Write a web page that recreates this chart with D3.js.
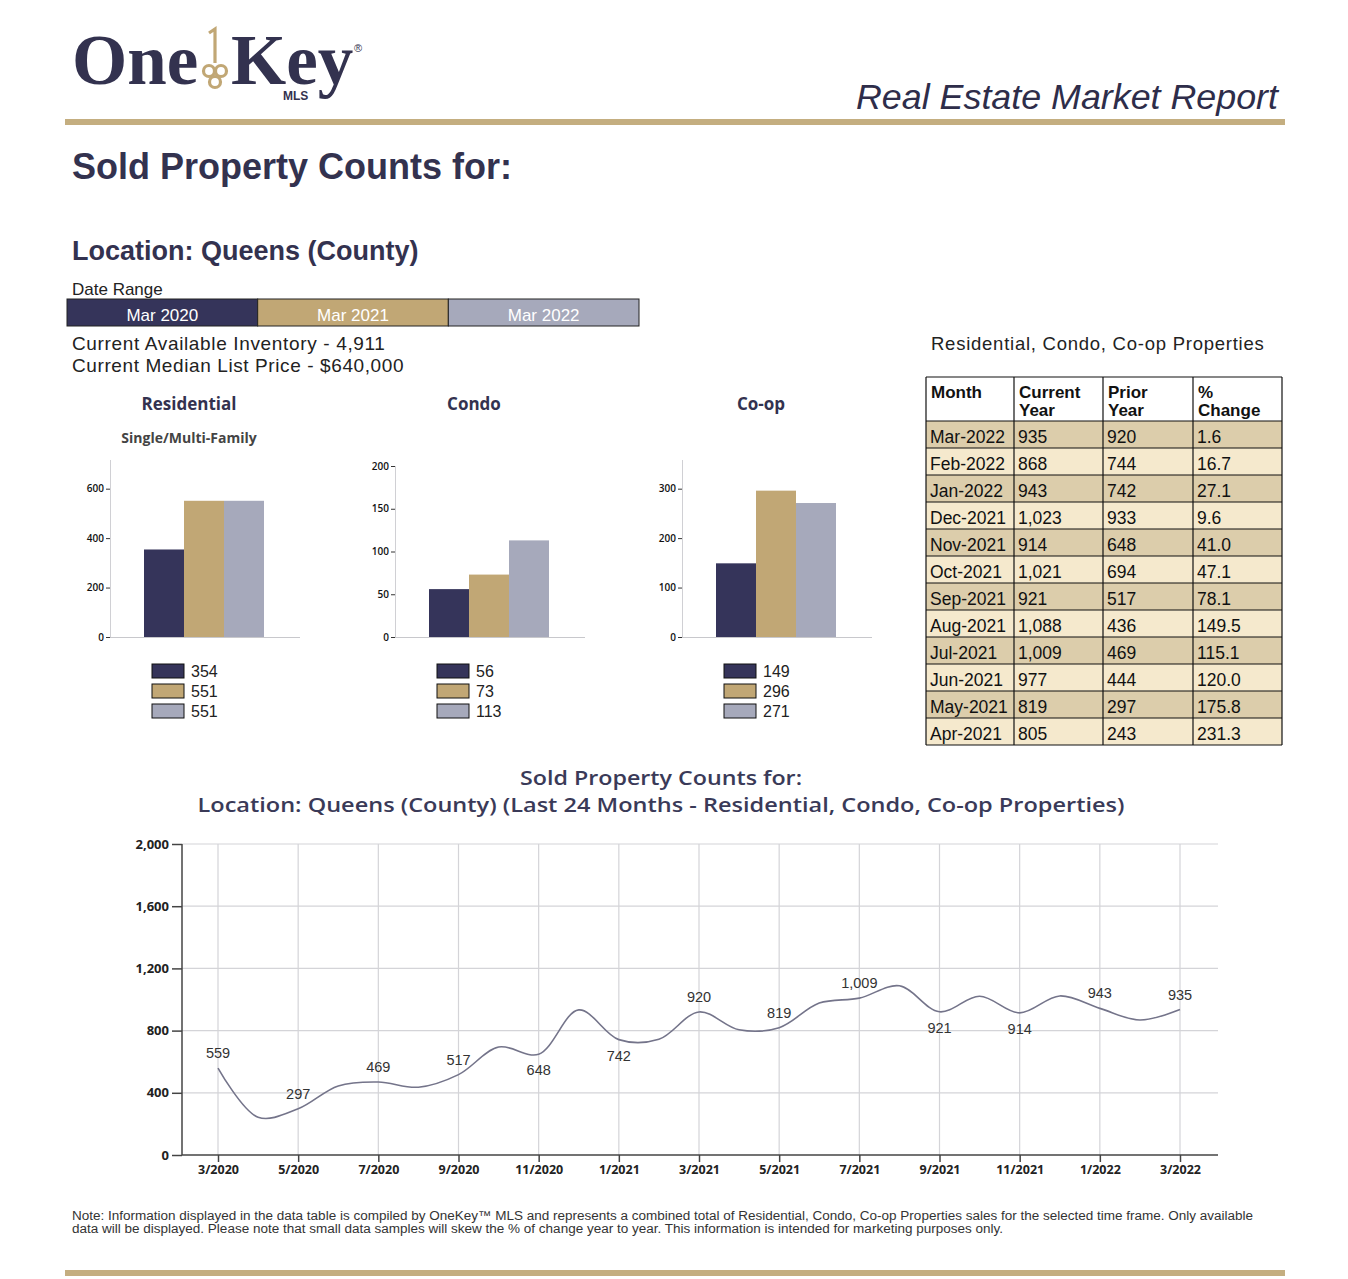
<!DOCTYPE html>
<html>
<head>
<meta charset="utf-8">
<style>
  body { margin: 0; background: #fff; }
  svg { display: block; }
  text { font-family: "Liberation Sans", Arial, sans-serif; }
  .tah { font-family: "Open Sans", "DejaVu Sans", sans-serif; }
</style>
</head>
<body>
<div id="page"></div>
<script src="https://cdnjs.cloudflare.com/ajax/libs/d3/7.8.5/d3.min.js"></script>
<script>
'use strict';

// ---- data ----
var dateRange = ['Mar 2020', 'Mar 2021', 'Mar 2022'];
var barCategories = ['Residential', 'Condo', 'Co-op'];
var barSubtitles = ['Single/Multi-Family', '', ''];
var residentialCounts = [354, 551, 551];
var condoCounts = [56, 73, 113];
var coopCounts = [149, 296, 271];

var tableMonths = ['Mar-2022', 'Feb-2022', 'Jan-2022', 'Dec-2021', 'Nov-2021', 'Oct-2021',
  'Sep-2021', 'Aug-2021', 'Jul-2021', 'Jun-2021', 'May-2021', 'Apr-2021'];
var currentYear = ['935', '868', '943', '1,023', '914', '1,021', '921', '1,088', '1,009', '977', '819', '805'];
var priorYear = ['920', '744', '742', '933', '648', '694', '517', '436', '469', '444', '297', '243'];
var pctChange = ['1.6', '16.7', '27.1', '9.6', '41.0', '47.1', '78.1', '149.5', '115.1', '120.0', '175.8', '231.3'];

// Mar 2020 .. Mar 2022, one per month
var monthlySold = [559, 243, 297, 444, 469, 436, 517, 694, 648, 933, 742, 744,
  920, 805, 819, 977, 1009, 1088, 921, 1021, 914, 1023, 943, 868, 935];
var monthTicks = ['3/2020', '5/2020', '7/2020', '9/2020', '11/2020', '1/2021', '3/2021',
  '5/2021', '7/2021', '9/2021', '11/2021', '1/2022', '3/2022'];
var yTicks = [0, 400, 800, 1200, 1600, 2000];

// ---- look ----
var navy = '#35345a', tan = '#c1a775', grey = '#a6a9bb', gold = '#c4ae80', ink = '#33324f';
var seriesColors = [navy, tan, grey];
var labelBelow = [false, false, false, false, true, true, false, false, false, true, true, false, false];

var W = 1348, H = 1279;
var svg = d3.select('#page').append('svg').attr('width', W).attr('height', H);

// ---- header ----
svg.append('text').attr('x', 72).attr('y', 84).text('One')
  .style('font-family', '"Liberation Serif", serif').style('font-weight', 700)
  .style('font-size', '71px').attr('fill', ink);
svg.append('text').attr('x', 231).attr('y', 84).text('Key')
  .style('font-family', '"Liberation Serif", serif').style('font-weight', 700)
  .style('font-size', '71px').attr('fill', ink);
var key = svg.append('g').attr('fill', 'none').attr('stroke', tan).attr('stroke-width', 3.2);
key.append('path').attr('d', 'M209,33 L215,29 L215,63');
key.append('circle').attr('cx', 209).attr('cy', 71).attr('r', 5.5);
key.append('circle').attr('cx', 221).attr('cy', 71).attr('r', 5.5);
key.append('circle').attr('cx', 215).attr('cy', 82).attr('r', 5.5);
svg.append('text').attr('x', 283).attr('y', 100).text('MLS')
  .style('font-weight', 700).style('font-size', '12px').attr('fill', ink);
svg.append('text').attr('x', 354).attr('y', 52).text('®')
  .style('font-size', '11px').attr('fill', ink);

svg.append('text').attr('x', 856).attr('y', 109).text('Real Estate Market Report')
  .attr('textLength', 422).attr('lengthAdjust', 'spacingAndGlyphs')
  .style('font-style', 'italic').style('font-size', '35px').attr('fill', '#2e2d4a');

svg.append('rect').attr('x', 65).attr('y', 119).attr('width', 1220).attr('height', 6).attr('fill', gold);
svg.append('rect').attr('x', 65).attr('y', 1270).attr('width', 1220).attr('height', 6).attr('fill', gold);

svg.append('text').attr('x', 72).attr('y', 179).text('Sold Property Counts for:')
  .style('font-weight', 700).style('font-size', '36px').attr('fill', ink);
svg.append('text').attr('x', 72).attr('y', 260).text('Location: Queens (County)')
  .style('font-weight', 700).style('font-size', '27px').attr('fill', ink);
svg.append('text').attr('x', 72).attr('y', 295).text('Date Range')
  .style('font-size', '17px').attr('fill', '#222');

var dr = d3.scaleBand().domain(dateRange).range([67, 639]);
var drG = svg.append('g');
drG.selectAll('rect').data(dateRange).join('rect')
  .attr('x', function (d) { return dr(d); }).attr('y', 299)
  .attr('width', dr.bandwidth()).attr('height', 27)
  .attr('fill', function (d, i) { return seriesColors[i]; })
  .attr('stroke', '#222').attr('stroke-width', 1);
drG.selectAll('text').data(dateRange).join('text')
  .attr('x', function (d) { return dr(d) + dr.bandwidth() / 2; }).attr('y', 321)
  .attr('text-anchor', 'middle').attr('fill', '#fff').style('font-size', '17px')
  .text(function (d) { return d; });

svg.append('text').attr('x', 72).attr('y', 350).text('Current Available Inventory - 4,911')
  .style('font-size', '19px').style('letter-spacing', '0.65px').attr('fill', '#222');
svg.append('text').attr('x', 72).attr('y', 372).text('Current Median List Price - $640,000')
  .style('font-size', '19px').style('letter-spacing', '0.6px').attr('fill', '#222');

// ---- three small bar charts ----
var barSets = [
  { values: residentialCounts, axisX: 110, max: 716, ticks: [0, 200, 400, 600], top: 460 },
  { values: condoCounts, axisX: 395, max: 200, ticks: [0, 50, 100, 150, 200], top: 466 },
  { values: coopCounts, axisX: 682, max: 358, ticks: [0, 100, 200, 300], top: 460 }
];
var barBase = 637;

barSets.forEach(function (s, k) {
  var g = svg.append('g');
  var cx = s.axisX + 79;
  g.append('text').attr('class', 'tah').attr('x', cx).attr('y', 410)
    .attr('text-anchor', 'middle').style('font-weight', 700).style('font-size', '17px')
    .attr('fill', ink).text(barCategories[k]);
  if (barSubtitles[k]) {
    g.append('text').attr('class', 'tah').attr('x', cx).attr('y', 443)
      .attr('text-anchor', 'middle').style('font-weight', 700).style('font-size', '14px')
      .attr('fill', '#444').text(barSubtitles[k]);
  }
  var y = d3.scaleLinear().domain([0, s.max]).range([barBase, s.top]);
  var x = d3.scaleBand().domain(d3.range(3)).range([s.axisX + 34, s.axisX + 154]).padding(0);

  g.selectAll('rect.bar').data(s.values).join('rect').attr('class', 'bar')
    .attr('x', function (d, i) { return x(i); }).attr('width', x.bandwidth())
    .attr('y', function (d) { return y(d); })
    .attr('height', function (d) { return barBase - y(d); })
    .attr('fill', function (d, i) { return seriesColors[i]; });

  g.append('line').attr('x1', s.axisX).attr('x2', s.axisX + 190)
    .attr('y1', barBase + 0.5).attr('y2', barBase + 0.5).attr('stroke', '#c8c8cc');
  var ax = g.append('g').attr('transform', 'translate(' + s.axisX + ',0)')
    .call(d3.axisLeft(y).tickValues(s.ticks).tickSize(4).tickPadding(2));
  ax.select('.domain').attr('stroke', '#d0d0d4').attr('d', 'M0.5,' + s.top + 'V' + barBase);
  ax.selectAll('.tick line').attr('stroke', '#333');
  ax.selectAll('.tick text').attr('class', 'tah').style('font-size', '10px')
    .style('font-weight', 600).attr('fill', '#111');

  var lg = g.selectAll('g.leg').data(s.values).join('g').attr('class', 'leg')
    .attr('transform', function (d, i) { return 'translate(' + (s.axisX + 42) + ',' + (664 + i * 20) + ')'; });
  lg.append('rect').attr('width', 32).attr('height', 14)
    .attr('fill', function (d, i) { return seriesColors[i]; })
    .attr('stroke', '#111').attr('stroke-width', 1);
  lg.append('text').attr('x', 39).attr('y', 12.5).style('font-size', '16px')
    .attr('fill', '#222').text(function (d) { return d; });
});

// ---- table ----
svg.append('text').attr('x', 931).attr('y', 350).text('Residential, Condo, Co-op Properties')
  .style('font-size', '18.5px').style('letter-spacing', '0.75px').attr('fill', '#222');

var colX = [926, 1014, 1103, 1193, 1282];
var headTop = 377, headH = 44, rowH = 27;
var tbl = svg.append('g');
tbl.append('rect').attr('x', colX[0]).attr('y', headTop)
  .attr('width', colX[4] - colX[0]).attr('height', headH).attr('fill', '#fff');
var headers = [['Month'], ['Current', 'Year'], ['Prior', 'Year'], ['%', 'Change']];
headers.forEach(function (h, c) {
  var t = tbl.append('text').attr('x', colX[c] + 4).attr('y', headTop + 21)
    .style('font-weight', 700).style('font-size', '17px').attr('fill', '#111');
  h.forEach(function (line, j) {
    t.append('tspan').attr('x', colX[c] + 5).attr('dy', j ? 18 : 0).text(line);
  });
});
var rows = tbl.selectAll('g.row').data(tableMonths).join('g').attr('class', 'row')
  .attr('transform', function (d, i) { return 'translate(0,' + (headTop + headH + i * rowH) + ')'; });
rows.append('rect').attr('x', colX[0]).attr('width', colX[4] - colX[0]).attr('height', rowH)
  .attr('fill', function (d, i) { return i % 2 ? '#f5e9cd' : '#dccdab'; });
rows.each(function (d, i) {
  var cells = [d, currentYear[i], priorYear[i], pctChange[i]];
  d3.select(this).selectAll('text').data(cells).join('text')
    .attr('x', function (c, j) { return colX[j] + 4; }).attr('y', 22)
    .style('font-size', '17.5px').attr('fill', '#111')
    .text(function (c) { return c; });
});
var gridLines = tbl.append('g').attr('stroke', '#111').attr('stroke-width', 1.2);
var tblBottom = headTop + headH + tableMonths.length * rowH;
colX.forEach(function (x) {
  gridLines.append('line').attr('x1', x).attr('x2', x).attr('y1', headTop).attr('y2', tblBottom);
});
d3.range(tableMonths.length + 2).forEach(function (i) {
  var yy = i === 0 ? headTop : headTop + headH + (i - 1) * rowH;
  gridLines.append('line').attr('x1', colX[0]).attr('x2', colX[4]).attr('y1', yy).attr('y2', yy);
});

// ---- line chart ----
svg.append('text').attr('class', 'tah').attr('x', 661).attr('y', 785).attr('text-anchor', 'middle')
  .attr('textLength', 282).attr('lengthAdjust', 'spacingAndGlyphs')
  .style('font-weight', 600).style('font-size', '20px').attr('fill', '#3a3a58')
  .text('Sold Property Counts for:');
svg.append('text').attr('class', 'tah').attr('x', 661).attr('y', 812).attr('text-anchor', 'middle')
  .attr('textLength', 927).attr('lengthAdjust', 'spacingAndGlyphs')
  .style('font-weight', 600).style('font-size', '20px').attr('fill', '#3a3a58')
  .text('Location: Queens (County) (Last 24 Months - Residential, Condo, Co-op Properties)');

var lx = d3.scaleLinear().domain([0, 24]).range([218, 1180]);
var ly = d3.scaleLinear().domain([0, 2000]).range([1155, 844]);
var plotL = 182, plotR = 1218;
var lc = svg.append('g');

lc.selectAll('line.hgrid').data(yTicks.slice(1)).join('line').attr('class', 'hgrid')
  .attr('x1', plotL).attr('x2', plotR)
  .attr('y1', function (d) { return ly(d); }).attr('y2', function (d) { return ly(d); })
  .attr('stroke', '#d4d4d8').attr('stroke-width', 1.2);
lc.selectAll('line.vgrid').data(monthTicks).join('line').attr('class', 'vgrid')
  .attr('x1', function (d, i) { return lx(i * 2); }).attr('x2', function (d, i) { return lx(i * 2); })
  .attr('y1', ly(2000)).attr('y2', ly(0))
  .attr('stroke', '#d4d4d8').attr('stroke-width', 1.2);

var yAx = lc.append('g').attr('transform', 'translate(' + plotL + ',0)')
  .call(d3.axisLeft(ly).tickValues(yTicks).tickFormat(d3.format(',')).tickSize(10).tickPadding(3));
yAx.select('.domain').attr('stroke', '#444').attr('stroke-width', 1.5).attr('d', 'M0,' + ly(2000) + 'V' + ly(0));
yAx.selectAll('.tick line').attr('stroke', '#444').attr('stroke-width', 1.5);
yAx.selectAll('.tick text').attr('class', 'tah').style('font-size', '13px')
  .style('font-weight', 700).attr('fill', '#222');

var xAx = lc.append('g').attr('transform', 'translate(0,' + ly(0) + ')')
  .call(d3.axisBottom(lx).tickValues(d3.range(0, 25, 2))
    .tickFormat(function (d) { return monthTicks[d / 2]; }).tickSize(7).tickPadding(3));
xAx.select('.domain').attr('stroke', '#444').attr('stroke-width', 1.5).attr('d', 'M' + plotL + ',0H' + plotR);
xAx.selectAll('.tick line').attr('stroke', '#444').attr('stroke-width', 1.5);
xAx.selectAll('.tick text').attr('class', 'tah').style('font-size', '12.5px')
  .style('font-weight', 700).attr('fill', '#222');

var line = d3.line()
  .x(function (d, i) { return lx(i); })
  .y(function (d) { return ly(d); })
  .curve(d3.curveCatmullRom.alpha(0.5));
lc.append('path').datum(monthlySold).attr('d', line)
  .attr('fill', 'none').attr('stroke', '#74748a').attr('stroke-width', 1.6);

var labelled = monthlySold.map(function (v, i) { return { v: v, i: i }; })
  .filter(function (d) { return d.i % 2 === 0; });
lc.selectAll('text.val').data(labelled).join('text').attr('class', 'val')
  .attr('x', function (d) { return lx(d.i); })
  .attr('y', function (d, k) { return ly(d.v) + (labelBelow[k] ? 21 : -10); })
  .attr('text-anchor', 'middle').style('font-size', '14.5px').attr('fill', '#333')
  .text(function (d) { return d3.format(',')(d.v); });

// ---- note ----
svg.append('text').attr('x', 72).attr('y', 1220)
  .attr('textLength', 1181).attr('lengthAdjust', 'spacingAndGlyphs')
  .style('font-size', '12.5px').attr('fill', '#333')
  .text('Note: Information displayed in the data table is compiled by OneKey\u2122 MLS and represents a combined total of Residential, Condo, Co-op Properties sales for the selected time frame. Only available');
svg.append('text').attr('x', 72).attr('y', 1233)
  .attr('textLength', 931).attr('lengthAdjust', 'spacingAndGlyphs')
  .style('font-size', '12.5px').attr('fill', '#333')
  .text('data will be displayed. Please note that small data samples will skew the % of change year to year. This information is intended for marketing purposes only.');
</script>
</body>
</html>
